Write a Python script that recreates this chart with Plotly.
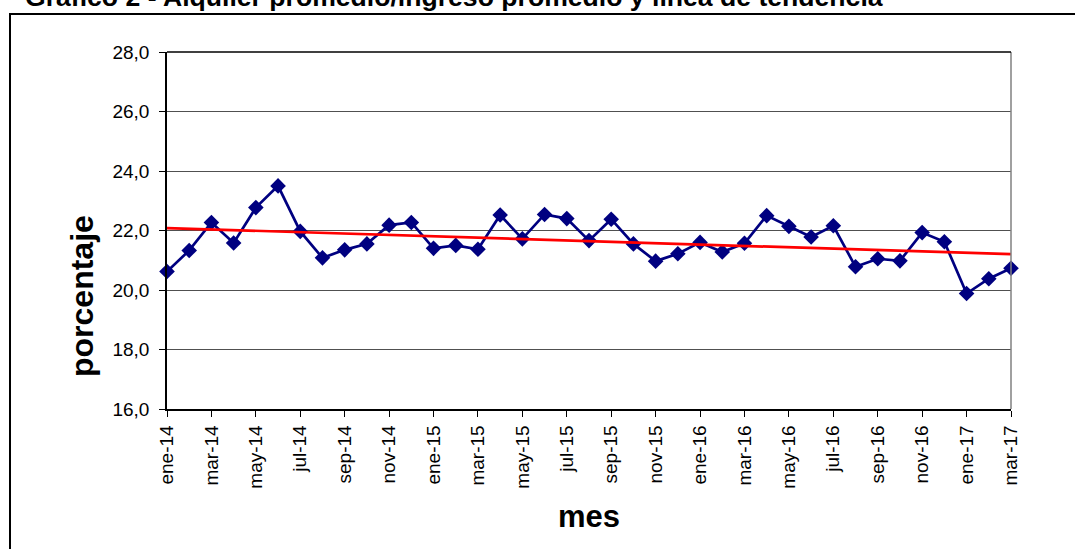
import numpy as np
import plotly.graph_objects as go

meses_es = ["ene", "feb", "mar", "abr", "may", "jun", "jul", "ago", "sep", "oct", "nov", "dic"]
anios = ["14", "15", "16", "17"]
categorias = [f"{m}-{a}" for a in anios for m in meses_es][:39]

valores = [20.62, 21.33, 22.27, 21.58, 22.77, 23.50, 21.97, 21.08, 21.35, 21.55,
           22.18, 22.27, 21.40, 21.50, 21.37, 22.52, 21.72, 22.54, 22.40, 21.66,
           22.38, 21.55, 20.97, 21.22, 21.60, 21.28, 21.57, 22.50, 22.14, 21.78,
           22.16, 20.78, 21.05, 20.98, 21.93, 21.62, 19.88, 20.38, 20.73]

titulo = "Gráfico 2 - Alquiler promedio/ingreso promedio y línea de tendencia"
y_titulo = "porcentaje"
x_titulo = "mes"
y_ticks = [16, 18, 20, 22, 24, 26, 28]

idx = np.arange(len(valores))
pend, inter = np.polyfit(idx, valores, 1)
tendencia = pend * idx + inter

W, H = 1075, 549
L, R, T, B = 167, 64, 52, 140
pw, ph = W - L - R, H - T - B

def px_x(x):
    return (x - L) / pw

def px_y(y):
    return (H - B - y) / ph

fig = go.Figure()
fig.add_trace(go.Scatter(
    x=categorias, y=valores, mode="lines+markers",
    line=dict(color="#000080", width=2.7),
    marker=dict(symbol="diamond", size=12, color="#000080"),
    cliponaxis=False, showlegend=False,
))
fig.add_trace(go.Scatter(
    x=categorias, y=tendencia, mode="lines",
    line=dict(color="#FF0000", width=2.7),
    showlegend=False,
))

fig.update_layout(
    width=W, height=H,
    margin=dict(l=L, r=R, t=T, b=B, autoexpand=False),
    paper_bgcolor="white", plot_bgcolor="white",
    separators=",.",
    font=dict(family="Liberation Sans, Arial, sans-serif", color="black"),
    xaxis=dict(
        type="category", range=[0, len(categorias) - 1],
        tickmode="array", tickvals=categorias[::2], ticktext=categorias[::2],
        tickangle=-90, tickfont=dict(size=19),
        ticks="outside", ticklen=6, tickcolor="black", tickwidth=1,
        showline=True, linecolor="black", linewidth=1.5,
        showgrid=False, zeroline=False, ticklabelstandoff=1,
    ),
    yaxis=dict(
        range=[16, 28], tickmode="array", tickvals=y_ticks,
        tickformat=".1f", tickfont=dict(size=19),
        ticks="outside", ticklen=6, tickcolor="black", tickwidth=1,
        showline=True, linecolor="black", linewidth=1.5,
        showgrid=True, gridcolor="#505050", gridwidth=1.2,
        zeroline=False, ticklabelstandoff=6,
    ),
    shapes=[
        dict(type="line", xref="paper", yref="paper", x0=1, x1=1, y0=0, y1=1,
             line=dict(color="#808080", width=1.5)),
        dict(type="line", xref="paper", yref="paper", x0=0, x1=1, y0=1, y1=1,
             line=dict(color="black", width=1.5)),
        dict(type="rect", xref="paper", yref="paper",
             x0=px_x(10), x1=px_x(W + 20), y0=px_y(H + 20), y1=px_y(14),
             line=dict(color="black", width=2), fillcolor="rgba(0,0,0,0)", layer="below"),
    ],
    annotations=[
        dict(text=f"<b>{titulo}</b>", xref="paper", yref="paper",
             x=px_x(23), y=px_y(14), xanchor="left", yanchor="bottom",
             showarrow=False, font=dict(size=26.6, color="black")),
        dict(text=f"<b>{y_titulo}</b>", xref="paper", yref="paper",
             x=px_x(82), y=px_y(296), xanchor="center", yanchor="middle",
             textangle=-90, showarrow=False, font=dict(size=32, color="black")),
        dict(text=f"<b>{x_titulo}</b>", xref="paper", yref="paper",
             x=px_x(589), y=px_y(516), xanchor="center", yanchor="middle",
             showarrow=False, font=dict(size=31, color="black")),
    ],
)

fig.write_html("out.html", config={"displayModeBar": False},
               post_script="document.body.style.margin='0';")
